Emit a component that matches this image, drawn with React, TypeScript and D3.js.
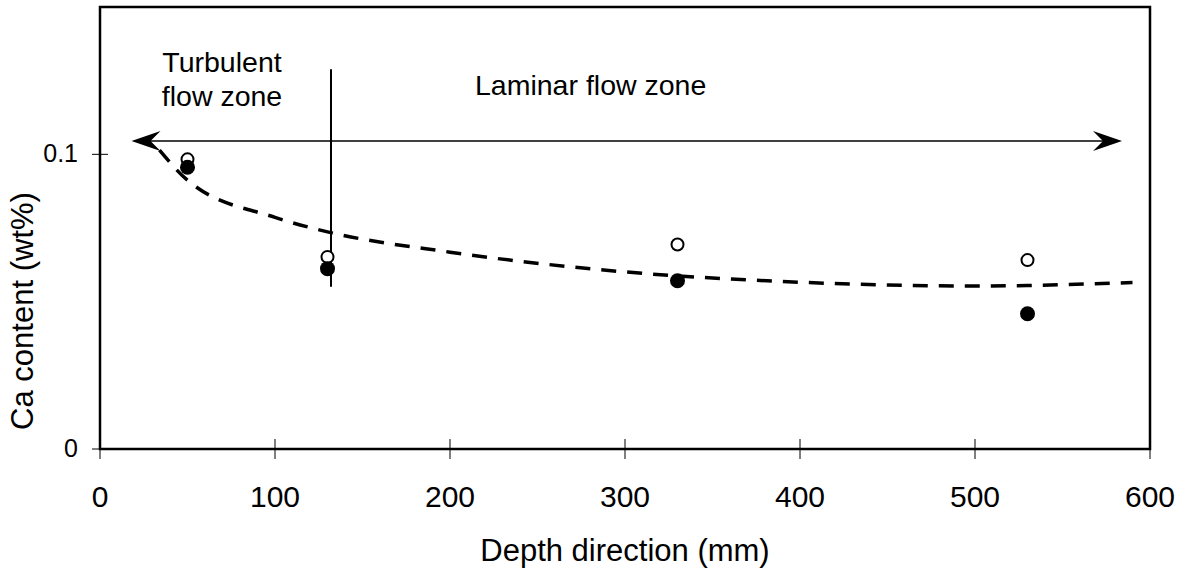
import React, { useEffect, useRef } from "react";
import * as d3 from "d3";

// measured points (depth in mm, Ca content in wt%)
const depths = [50, 130, 330, 530];
const openValues = [0.0983, 0.0652, 0.0694, 0.0641];
const filledValues = [0.0956, 0.0612, 0.0571, 0.0459];

// dashed trend curve
const trendX = [34, 50, 100, 130, 200, 300, 400, 500, 530, 590];
const trendY = [0.1014, 0.0912, 0.0786, 0.0737, 0.0668, 0.0601, 0.0566, 0.0553, 0.0555, 0.0565];

const xTicks = [0, 100, 200, 300, 400, 500, 600];
const yTicks = [0, 0.1];

const flowArrow = [18, 584];
const zoneBoundary = { x: 132, y0: 0.0551, y1: 0.1289 };
const arrowLevel = 0.1045;

export default function App() {
  const svgNode = useRef<SVGSVGElement>(null);
  const width = 1194;
  const height = 571;
  const margin = { top: 7, right: 44, bottom: 122, left: 100 };

  useEffect(() => {
    const svg = d3.select(svgNode.current);
    svg.selectAll("*").remove();
    const font = "Arial, 'Liberation Sans', sans-serif";

    const x = d3.scaleLinear().domain([0, 600]).range([margin.left, width - margin.right]);
    const y = d3.scaleLinear().domain([0, 0.15]).range([height - margin.bottom, margin.top]);

    // frame
    svg.append("rect")
      .attr("x", x(0)).attr("y", y(0.15))
      .attr("width", x(600) - x(0)).attr("height", y(0) - y(0.15))
      .attr("fill", "none").attr("stroke", "#000").attr("stroke-width", 2.5);

    // x axis ticks and labels
    const gx = svg.append("g");
    gx.selectAll("line").data(xTicks).join("line")
      .attr("x1", d => x(d)).attr("x2", d => x(d))
      .attr("y1", y(0) - 10).attr("y2", y(0) + 10)
      .attr("stroke", "#000").attr("stroke-width", 1);
    gx.selectAll("text").data(xTicks).join("text")
      .attr("x", d => x(d)).attr("y", y(0) + 58)
      .attr("text-anchor", "middle")
      .attr("font-family", font).attr("font-size", 30)
      .text(d => d);

    // y axis ticks and labels
    const gy = svg.append("g");
    gy.selectAll("line").data(yTicks).join("line")
      .attr("x1", x(0) - 8).attr("x2", x(0) + 8)
      .attr("y1", d => y(d)).attr("y2", d => y(d))
      .attr("stroke", "#000").attr("stroke-width", 1);
    gy.selectAll("text").data(yTicks).join("text")
      .attr("x", x(0) - 22).attr("y", d => y(d) + 8)
      .attr("text-anchor", "end")
      .attr("font-family", font).attr("font-size", 25)
      .text(d => (d === 0 ? "0" : String(d)));

    // axis titles
    svg.append("text")
      .attr("x", (x(0) + x(600)) / 2).attr("y", 561)
      .attr("text-anchor", "middle")
      .attr("font-family", font).attr("font-size", 31)
      .text("Depth direction (mm)");
    svg.append("text")
      .attr("transform", "translate(33,311) rotate(-90)")
      .attr("text-anchor", "middle")
      .attr("font-family", font).attr("font-size", 31)
      .text("Ca content (wt%)");

    // zone boundary
    svg.append("line")
      .attr("x1", x(zoneBoundary.x)).attr("x2", x(zoneBoundary.x))
      .attr("y1", y(zoneBoundary.y1)).attr("y2", y(zoneBoundary.y0))
      .attr("stroke", "#000").attr("stroke-width", 2);

    // double arrow
    const ay = y(arrowLevel);
    const xl = x(flowArrow[0]);
    const xr = x(flowArrow[1]);
    svg.append("line")
      .attr("x1", xl + 15).attr("x2", xr - 15)
      .attr("y1", ay).attr("y2", ay)
      .attr("stroke", "#000").attr("stroke-width", 1.5);
    svg.append("path")
      .attr("d", `M${xl},${ay} L${xl + 29},${ay - 10} L${xl + 19},${ay} L${xl + 29},${ay + 10} Z`)
      .attr("fill", "#000");
    svg.append("path")
      .attr("d", `M${xr},${ay} L${xr - 29},${ay - 10} L${xr - 19},${ay} L${xr - 29},${ay + 10} Z`)
      .attr("fill", "#000");

    // zone labels
    const zl = svg.append("text")
      .attr("font-family", font).attr("font-size", 28.5)
      .attr("text-anchor", "middle");
    zl.append("tspan").attr("x", 222).attr("y", 72).text("Turbulent");
    zl.append("tspan").attr("x", 222).attr("y", 106).text("flow zone");
    svg.append("text")
      .attr("x", 475).attr("y", 95)
      .attr("font-family", font).attr("font-size", 28.5)
      .text("Laminar flow zone");

    // trend curve
    const line = d3.line<number>()
      .x((d, i) => x(trendX[i]))
      .y(d => y(d))
      .curve(d3.curveMonotoneX);
    svg.append("path")
      .attr("d", line(trendY))
      .attr("fill", "none").attr("stroke", "#000")
      .attr("stroke-width", 3.5).attr("stroke-dasharray", "15 11");

    // points
    svg.append("g").selectAll("circle").data(depths).join("circle")
      .attr("cx", d => x(d)).attr("cy", (d, i) => y(openValues[i]))
      .attr("r", 6).attr("fill", "#fff").attr("stroke", "#000").attr("stroke-width", 2);
    svg.append("g").selectAll("circle").data(depths).join("circle")
      .attr("cx", d => x(d)).attr("cy", (d, i) => y(filledValues[i]))
      .attr("r", 7.5).attr("fill", "#000");
  });

  return (
    <svg ref={svgNode} width={width} height={height}
      style={{ position: "absolute", left: 0, top: 0, background: "#fff" }}></svg>
  );
}
